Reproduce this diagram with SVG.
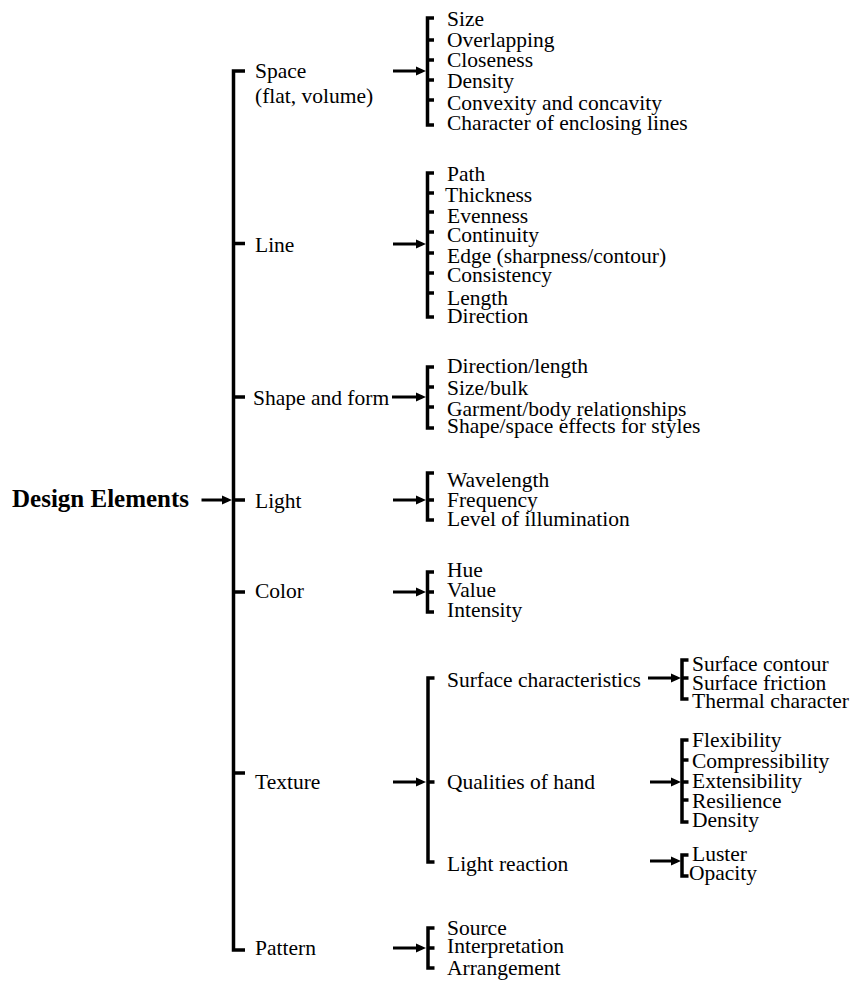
<svg xmlns="http://www.w3.org/2000/svg" width="853" height="981" viewBox="0 0 853 981">
  <style>
    .lbl text { font-family: "Liberation Serif", "Times New Roman", serif; font-size: 21.5px; fill: #000; }
    .lbl text.root { font-size: 25px; font-weight: bold; }
    .br { fill: none; stroke: #000; stroke-width: 3.5; stroke-linejoin: miter; }
    .ar { fill: none; stroke: #000; stroke-width: 3; marker-end: url(#head); }
  </style>
  <defs>
    <marker id="head" markerUnits="userSpaceOnUse" markerWidth="10" markerHeight="10" refX="6" refY="5" orient="auto">
      <path d="M0,0.5 L10,5 L0,9.5 z" fill="#000"/>
    </marker>
  </defs>
  <rect width="853" height="981" fill="#fff"/>

  <!-- brackets and arrows -->
  <g id="connectors">
    <!-- main bracket -->
    <path class="br" d="M245,71 H233.5 V950 H245 M233.5,243.5 H245 M233.5,397 H245 M233.5,500 H245 M233.5,592 H245 M233.5,773 H245"/>
    <path class="ar" d="M201.5,500 H228"/>

    <!-- space -->
    <path class="ar" d="M393,71 H422"/>
    <path class="br" d="M434,18 H427.5 V125 H434 M427.5,40 H434 M427.5,60 H434 M427.5,80 H434 M427.5,100 H434"/>

    <!-- line -->
    <path class="ar" d="M393,244 H422"/>
    <path class="br" d="M434,173 H427.5 V317 H434 M427.5,193 H434 M427.5,212 H434 M427.5,232 H434 M427.5,253 H434 M427.5,273 H434 M427.5,293 H434"/>

    <!-- shape and form -->
    <path class="ar" d="M392,397 H422"/>
    <path class="br" d="M434,367 H427.5 V428 H434 M427.5,387 H434 M427.5,407 H434"/>

    <!-- light -->
    <path class="ar" d="M393,500 H422"/>
    <path class="br" d="M434,473 H427.5 V520 H434 M427.5,500 H434"/>

    <!-- color -->
    <path class="ar" d="M393,592 H422"/>
    <path class="br" d="M434,572 H427.5 V612 H434 M427.5,592 H434"/>

    <!-- texture -->
    <path class="ar" d="M393,782 H422"/>
    <path class="br" d="M434.5,678 H428 V862 H434.5 M428,782 H434.5"/>
    <path class="ar" d="M648,678 H677"/>
    <path class="br" d="M688.5,660 H682 V699 H688.5 M682,678 H688.5"/>
    <path class="ar" d="M650,782 H677"/>
    <path class="br" d="M688.5,740 H682 V822 H688.5 M682,760 H688.5 M682,782 H688.5 M682,800 H688.5"/>
    <path class="ar" d="M650,861 H677"/>
    <path class="br" d="M688.5,855 H682 V876 H688.5"/>

    <!-- pattern -->
    <path class="ar" d="M393,948 H422"/>
    <path class="br" d="M434.5,928 H428 V968 H434.5 M428,948 H434.5"/>
  </g>

  <g class="lbl">
    <g id="node-design-elements">
      <text class="root" x="12" y="507">Design Elements</text>
    </g>

    <g id="node-space">
      <text x="255" y="78">Space</text>
      <text x="255" y="103">(flat, volume)</text>
    </g>
    <g id="node-space-items">
      <text x="447" y="26">Size</text>
      <text x="447" y="47">Overlapping</text>
      <text x="447" y="67">Closeness</text>
      <text x="447" y="88">Density</text>
      <text x="447" y="110">Convexity and concavity</text>
      <text x="447" y="130">Character of enclosing lines</text>
    </g>

    <g id="node-line">
      <text x="255" y="252">Line</text>
    </g>
    <g id="node-line-items">
      <text x="447" y="181">Path</text>
      <text x="445" y="202">Thickness</text>
      <text x="447" y="223">Evenness</text>
      <text x="447" y="242">Continuity</text>
      <text x="447" y="263">Edge (sharpness/contour)</text>
      <text x="447" y="282">Consistency</text>
      <text x="447" y="305">Length</text>
      <text x="447" y="323">Direction</text>
    </g>

    <g id="node-shape-form">
      <text x="253" y="405">Shape and form</text>
    </g>
    <g id="node-shape-form-items">
      <text x="447" y="373">Direction/length</text>
      <text x="447" y="395">Size/bulk</text>
      <text x="447" y="416">Garment/body relationships</text>
      <text x="447" y="433">Shape/space effects for styles</text>
    </g>

    <g id="node-light">
      <text x="255" y="508">Light</text>
    </g>
    <g id="node-light-items">
      <text x="447" y="487">Wavelength</text>
      <text x="447" y="507">Frequency</text>
      <text x="447" y="526">Level of illumination</text>
    </g>

    <g id="node-color">
      <text x="255" y="598">Color</text>
    </g>
    <g id="node-color-items">
      <text x="447" y="577">Hue</text>
      <text x="447" y="597">Value</text>
      <text x="447" y="617">Intensity</text>
    </g>

    <g id="node-texture">
      <text x="255" y="789">Texture</text>
    </g>
    <g id="node-surface">
      <text x="447" y="687">Surface characteristics</text>
    </g>
    <g id="node-surface-items">
      <text x="692" y="671">Surface contour</text>
      <text x="692" y="690">Surface friction</text>
      <text x="692" y="708">Thermal character</text>
    </g>
    <g id="node-hand">
      <text x="447" y="789">Qualities of hand</text>
    </g>
    <g id="node-hand-items">
      <text x="692" y="747">Flexibility</text>
      <text x="692" y="768">Compressibility</text>
      <text x="692" y="788">Extensibility</text>
      <text x="692" y="808">Resilience</text>
      <text x="692" y="827">Density</text>
    </g>
    <g id="node-light-reaction">
      <text x="447" y="871">Light reaction</text>
    </g>
    <g id="node-light-reaction-items">
      <text x="692" y="861">Luster</text>
      <text x="689" y="880">Opacity</text>
    </g>

    <g id="node-pattern">
      <text x="255" y="955">Pattern</text>
    </g>
    <g id="node-pattern-items">
      <text x="447" y="935">Source</text>
      <text x="447" y="953">Interpretation</text>
      <text x="447" y="975">Arrangement</text>
    </g>
  </g>
</svg>
